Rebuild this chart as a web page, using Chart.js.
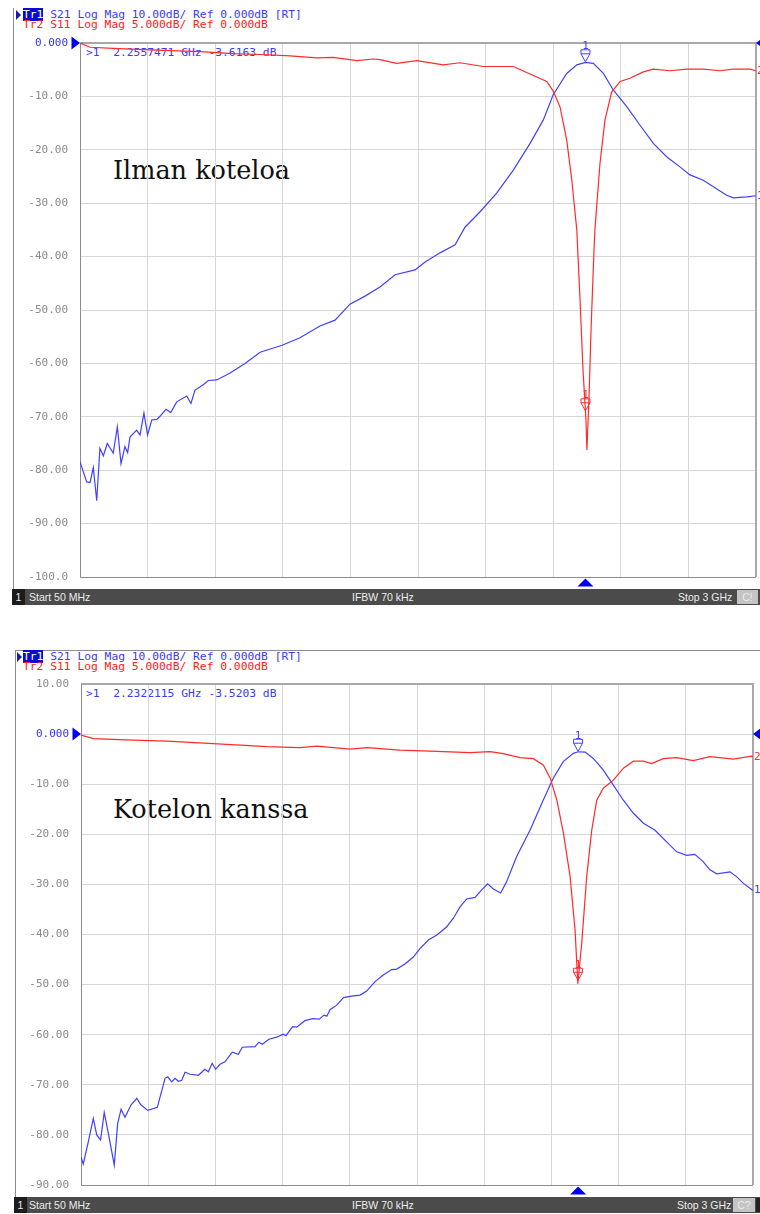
<!DOCTYPE html>
<html>
<head>
<meta charset="utf-8">
<script src="https://cdn.jsdelivr.net/npm/chart.js@4.4.0/dist/chart.umd.min.js"></script>
<style>
  html, body { margin: 0; padding: 0; background: #fff; }
  body { position: relative; width: 760px; height: 1214px; overflow: hidden; }
  canvas { position: absolute; left: 0; }
  .abs { position: absolute; white-space: pre; }
  .mono { font-family: "DejaVu Sans Mono", monospace; font-size: 11.3px; line-height: 11px; }
  .blue { color: #3a3aff; }
  .red { color: #ff2020; }
  .trbox { background: #0a0ad0; color: #fff; }
  .tri { position: absolute; width: 0; height: 0; border-top: 5px solid transparent; border-bottom: 5px solid transparent; border-left: 5px solid #1a1aa0; }
  .note { font-family: "DejaVu Serif", serif; font-size: 25.5px; color: #111; }
  .status { position: absolute; height: 16px; background: #4b4b4b; color: #ececec;
            font-family: "Liberation Sans", sans-serif; font-size: 10.5px; line-height: 16px; }
  .status span { position: absolute; top: 0; }
  .chno { background: #1c1c1c; width: 13px; text-align: center; left: 0; }
  .cbox { background: #c4c4c4; color: #eaeaea; height: 14px; top: 1px !important; line-height: 14px; text-align: center; }
  .vline { position: absolute; background: #8c8c8c; }
</style>
</head>
<body>

<!-- upper screen: without enclosure -->
<div class="vline" style="left:13px;top:8px;width:1px;height:582px"></div>
<div class="tri" style="left:16px;top:10px"></div>
<div class="abs mono blue" style="left:23px;top:9px"><span class="trbox">Tr1</span> S21 Log Mag 10.00dB/ Ref 0.000dB [RT]</div>
<div class="abs mono red" style="left:23px;top:19px">Tr2 S11 Log Mag 5.000dB/ Ref 0.000dB</div>
<div class="abs mono blue" style="left:86px;top:47px">&gt;1  2.2557471 GHz -3.6163 dB</div>
<div class="abs note" style="left:113px;top:155px">Ilman koteloa</div>
<div class="status" style="left:12px;top:589px;width:748px">
  <span class="chno">1</span>
  <span style="left:17px">Start 50 MHz</span>
  <span style="left:340px">IFBW 70 kHz</span>
  <span style="left:666px">Stop 3 GHz</span>
  <span class="cbox" style="left:725px;width:21px">C!</span>
</div>

<!-- lower screen: with enclosure -->
<div class="vline" style="left:15px;top:650px;width:745px;height:1px"></div>
<div class="vline" style="left:15px;top:650px;width:1px;height:548px"></div>
<div class="tri" style="left:17px;top:652px"></div>
<div class="abs mono blue" style="left:23px;top:651px"><span class="trbox">Tr1</span> S21 Log Mag 10.00dB/ Ref 0.000dB [RT]</div>
<div class="abs mono red" style="left:23px;top:661px">Tr2 S11 Log Mag 5.000dB/ Ref 0.000dB</div>
<div class="abs mono blue" style="left:86px;top:688px">&gt;1  2.2322115 GHz -3.5203 dB</div>
<div class="abs note" style="left:113px;top:794px">Kotelon kanssa</div>
<div class="status" style="left:14px;top:1197px;width:746px">
  <span class="chno">1</span>
  <span style="left:15px">Start 50 MHz</span>
  <span style="left:338px">IFBW 70 kHz</span>
  <span style="left:663px">Stop 3 GHz</span>
  <span class="cbox" style="left:719px;width:22px">C?</span>
  <span style="left:742px;width:4px;height:14px;top:1px;background:#222"></span>
</div>

<canvas id="upper" width="760" height="610" style="top:0"></canvas>
<canvas id="lower" width="760" height="574" style="top:640px"></canvas>

<script>
// Sweep: 50 MHz .. 3 GHz, 10 divisions
const START_MHZ = 50;
const STOP_MHZ = 3000;

// --- Upper screen (no enclosure) ---
const upperS21Freq = [50,79,94,108,123,137,152,169,195,213,229,246,258,268,297,312,329,345,363,385,
  399,425,446,472,516,534,552,588,610,647,705,770,836,932,1010,1097,1163,1228,1294,1359,
  1425,1512,1556,1621,1687,1730,1796,1868,1941,2014,2072,2115,2174,2218,2255.7471,2290,2334,2377,2436,2494,
  2552,2610,2668,2712,2770,2814,2872,2901,2960,3000];
const upperS21 = [-78.4,-82.2,-82.3,-79.5,-85.7,-75.9,-77.3,-75.0,-76.8,-71.9,-78.8,-75.6,-76.7,-73.8,-72.5,-73.4,-69.3,-73.4,-70.6,-70.5,
  -69.9,-68.6,-69.2,-67.2,-66.1,-67.5,-65.0,-64.0,-63.2,-63.1,-61.8,-60.0,-57.9,-56.6,-55.2,-53.0,-51.9,-48.9,-47.4,-45.7,
  -43.4,-42.5,-41.0,-39.3,-37.8,-34.5,-31.6,-28.1,-23.8,-18.8,-14.4,-9.7,-5.7,-4.1,-3.6163,-3.8,-5.7,-8.8,-11.9,-15.4,
  -18.8,-21.3,-23.2,-24.7,-25.7,-26.9,-28.5,-29.0,-28.8,-28.6];
const upperS11Freq = [50,94,194,355,574,718,866,966,1084,1154,1259,1329,1359,1432,1519,1635,1708,1810,1941,2014,
  2087,2115,2145,2174,2196,2218,2232,2245,2258,2262,2271,2280,2293,2297,2319,2341,2370,2407,2450,2508,
  2552,2625,2698,2770,2843,2901,2974,3000];
const upperS11 = [0,-0.4,-0.5,-0.65,-0.8,-1.0,-1.1,-1.2,-1.4,-1.35,-1.65,-1.5,-1.55,-1.9,-1.65,-2.05,-1.85,-2.2,-2.2,-2.9,
  -3.6,-4.5,-6.0,-9.1,-12.8,-17.5,-24.0,-30.6,-35.3,-38.1,-33.4,-26.9,-19.4,-17.5,-11.3,-7.2,-4.6,-3.6,-3.3,-2.7,
  -2.45,-2.6,-2.45,-2.45,-2.6,-2.45,-2.45,-2.6];
const upperMarker = { freq: 2255.7471, s21: -3.6163 };

// --- Lower screen (with enclosure) ---
const lowerS21Freq = [50,60,82,104,119,136,152,170,196,211,226,243,270,295,313,343,385,419,431,448,
  463,477,492,507,529,565,594,609,626,641,660,682,714,741,758,814,831,846,875,909,
  938,950,979,997,1033,1067,1096,1117,1129,1143,1173,1202,1238,1275,1304,1341,1377,1414,1436,1472,
  1509,1538,1575,1612,1655,1684,1714,1743,1780,1809,1835,1860,1892,1918,1962,2021,2079,2123,2167,2211,
  2232.2115,2263,2299,2343,2387,2431,2475,2519,2570,2621,2665,2709,2745,2782,2811,2841,2899,2929,2958,2994,3000];
const lowerS21 = [-84.4,-85.8,-81.4,-76.7,-80.0,-81.0,-75.5,-79.7,-86.0,-77.7,-74.9,-76.5,-74.0,-72.7,-74.0,-75.1,-74.5,-68.7,-68.4,-69.4,
  -68.7,-69.3,-69.1,-67.5,-67.9,-68.1,-66.9,-67.4,-65.7,-66.9,-65.9,-65.4,-63.5,-63.9,-62.5,-62.4,-61.5,-61.9,-60.9,-60.5,
  -59.9,-60.2,-58.4,-58.5,-57.2,-56.8,-56.9,-56.1,-56.3,-55.0,-54.1,-52.6,-52.3,-52.1,-51.3,-49.4,-48.1,-47.0,-46.9,-45.9,
  -44.5,-42.8,-41.1,-40.1,-38.5,-36.8,-34.5,-32.9,-32.6,-31.1,-29.9,-30.9,-31.7,-29.5,-24.5,-19.2,-13.2,-8.8,-5.5,-3.85,
  -3.5203,-3.6,-4.85,-7.2,-10.2,-13.2,-15.8,-17.8,-19.2,-21.5,-23.5,-24.2,-24.0,-25.5,-27.1,-27.9,-27.5,-28.5,-29.8,-31.0,-31.2];
const lowerS11Freq = [50,104,278,428,630,867,1011,1086,1231,1306,1450,1582,1758,1846,1904,1977,2036,2080,2110,2139,
  2168,2197,2219,2231,2248,2270,2292,2314,2343,2387,2431,2475,2519,2555,2606,2665,2738,2811,2914,2994,3000];
const lowerS11 = [-0.1,-0.45,-0.6,-0.7,-0.95,-1.25,-1.35,-1.2,-1.5,-1.35,-1.6,-1.7,-1.85,-1.75,-1.95,-2.35,-2.45,-3.1,-4.4,-6.6,
  -9.9,-14.2,-19.6,-24.9,-20.9,-14.2,-9.6,-6.6,-5.4,-4.6,-3.4,-2.7,-2.7,-2.95,-2.45,-2.35,-2.65,-2.25,-2.5,-2.2,-2.25];
const lowerMarker = { freq: 2232.2115, s21: -3.5203 };

const TRACE_BLUE = '#4040ff';
const TRACE_RED = '#ff2b2b';
const MARK_BLUE = '#0000f0';
const GRID = '#d6d6d6';
const LABEL_GRAY = '#8a8a8a';
const LABEL_BLUE = '#3030ff';

// vertical graticule: 10 equal divisions across the sweep
const DIVS = 10;
const freqGrid = Array.from({ length: DIVS + 1 }, (_, i) => START_MHZ + i * (STOP_MHZ - START_MHZ) / DIVS);

function valueAt(xs, ys, f) {
  for (let i = 1; i < xs.length; i++) {
    if (f <= xs[i]) {
      const t = (f - xs[i - 1]) / (xs[i] - xs[i - 1]);
      return ys[i - 1] + t * (ys[i] - ys[i - 1]);
    }
  }
  return ys[ys.length - 1];
}

function markerGlyph(ctx, x, y, color) {
  ctx.save();
  ctx.strokeStyle = color;
  ctx.fillStyle = color;
  ctx.lineWidth = 1;
  ctx.beginPath();
  ctx.moveTo(x - 4.5, y - 12.5);
  ctx.lineTo(x + 4.5, y - 12.5);
  ctx.lineTo(x + 4.5, y - 8.5);
  ctx.lineTo(x, y - 0.5);
  ctx.lineTo(x - 4.5, y - 8.5);
  ctx.closePath();
  ctx.stroke();
  ctx.beginPath();
  ctx.moveTo(x - 4.5, y - 8.5);
  ctx.lineTo(x + 4.5, y - 8.5);
  ctx.stroke();
  ctx.font = '11px "DejaVu Sans Mono"';
  ctx.textAlign = 'center';
  ctx.textBaseline = 'alphabetic';
  ctx.fillText('1', x, y - 13);
  ctx.restore();
}

const vnaOverlay = {
  id: 'vnaOverlay',
  beforeDatasetsDraw(chart) {
    const { ctx, chartArea: a } = chart;
    ctx.save();
    ctx.strokeStyle = '#a8a8a8';
    ctx.lineWidth = 2;
    ctx.beginPath();
    ctx.moveTo(a.left, a.top); ctx.lineTo(a.right, a.top); ctx.lineTo(a.right, a.bottom);
    ctx.stroke();
    ctx.strokeStyle = '#8c8c8c';
    ctx.lineWidth = 1;
    ctx.beginPath();
    ctx.moveTo(a.left + 0.5, a.top); ctx.lineTo(a.left + 0.5, a.bottom + 0.5); ctx.lineTo(a.right, a.bottom + 0.5);
    ctx.stroke();
    ctx.restore();
  },
  afterDraw(chart, args, opts) {
    const { ctx, chartArea: a, scales } = chart;
    const xs = scales.x, y = scales.y, y2 = scales.y2;
    const ref = y.getPixelForValue(0);
    ctx.save();
    ctx.fillStyle = MARK_BLUE;
    // reference-level arrows
    ctx.beginPath();
    ctx.moveTo(a.left - 8.5, ref - 6.5); ctx.lineTo(a.left, ref); ctx.lineTo(a.left - 8.5, ref + 6.5);
    ctx.closePath(); ctx.fill();
    ctx.beginPath();
    ctx.moveTo(a.right, ref); ctx.lineTo(a.right + 8, ref - 6); ctx.lineTo(a.right + 8, ref + 6);
    ctx.closePath(); ctx.fill();
    // stimulus position of the active marker
    const mx = xs.getPixelForValue(opts.marker.freq);
    ctx.beginPath();
    ctx.moveTo(mx - 8, a.bottom + 9.5); ctx.lineTo(mx, a.bottom + 1.5); ctx.lineTo(mx + 8, a.bottom + 9.5);
    ctx.closePath(); ctx.fill();
    // trace end labels
    ctx.font = '11px "DejaVu Sans Mono"';
    ctx.textAlign = 'left';
    ctx.textBaseline = 'middle';
    ctx.fillStyle = TRACE_RED;
    ctx.fillText('2', a.right + 1, y2.getPixelForValue(opts.s11[opts.s11.length - 1]));
    ctx.fillStyle = TRACE_BLUE;
    ctx.fillText('1', a.right + 1, y.getPixelForValue(opts.s21[opts.s21.length - 1]));
    ctx.restore();
    // marker 1 on both traces
    markerGlyph(ctx, mx, y.getPixelForValue(opts.marker.s21), TRACE_BLUE);
    const s11AtMarker = valueAt(opts.s11Freq, opts.s11, opts.marker.freq);
    markerGlyph(ctx, mx, y2.getPixelForValue(s11AtMarker), TRACE_RED);
  }
};

function vnaChart(id, cfg) {
  const pts = (xs, ys) => xs.map((f, i) => ({ x: f, y: ys[i] }));
  return new Chart(document.getElementById(id), {
    type: 'line',
    data: {
      datasets: [
        { label: 'S21', data: pts(cfg.s21Freq, cfg.s21), yAxisID: 'y', borderColor: TRACE_BLUE,
          borderWidth: 1.2, pointRadius: 0, tension: 0, order: 2 },
        { label: 'S11', data: pts(cfg.s11Freq, cfg.s11), yAxisID: 'y2', borderColor: TRACE_RED,
          borderWidth: 1.2, pointRadius: 0, tension: 0, order: 1 }
      ]
    },
    options: {
      responsive: false,
      animation: false,
      devicePixelRatio: 1,
      layout: { padding: cfg.padding },
      plugins: {
        legend: { display: false },
        tooltip: { enabled: false },
        vnaOverlay: { marker: cfg.marker, s21: cfg.s21, s11: cfg.s11, s11Freq: cfg.s11Freq }
      },
      scales: {
        x: {
          type: 'linear', min: START_MHZ, max: STOP_MHZ,
          afterBuildTicks: axis => { axis.ticks = freqGrid.map(v => ({ value: v })); },
          ticks: { display: false },
          grid: { color: GRID, drawTicks: false },
          border: { display: false },
          afterFit: s => { s.height = 0; }
        },
        y: {
          min: cfg.s21Min, max: cfg.s21Max,
          ticks: {
            stepSize: 10, padding: 12, autoSkip: false,
            font: { family: '"DejaVu Sans Mono"', size: 11 },
            color: c => (c.tick.value === 0 ? LABEL_BLUE : LABEL_GRAY),
            callback: v => Number(v).toPrecision(4)
          },
          grid: { color: GRID, drawTicks: false },
          border: { display: false },
          afterFit: s => { s.width = cfg.axisWidth; }
        },
        y2: { display: false, min: cfg.s11Min, max: cfg.s11Max }
      }
    },
    plugins: [vnaOverlay]
  });
}

// S21 at 10 dB/div and S11 at 5 dB/div share the same reference division
vnaChart('upper', {
  s21Freq: upperS21Freq, s21: upperS21, s11Freq: upperS11Freq, s11: upperS11, marker: upperMarker,
  s21Min: -100, s21Max: 0, s11Min: -50, s11Max: 0,
  axisWidth: 80, padding: { left: 0, top: 43, right: 4, bottom: 33 }
});
vnaChart('lower', {
  s21Freq: lowerS21Freq, s21: lowerS21, s11Freq: lowerS11Freq, s11: lowerS11, marker: lowerMarker,
  s21Min: -90, s21Max: 10, s11Min: -45, s11Max: 5,
  axisWidth: 81, padding: { left: 0, top: 44, right: 7, bottom: 29 }
});
</script>
</body>
</html>
